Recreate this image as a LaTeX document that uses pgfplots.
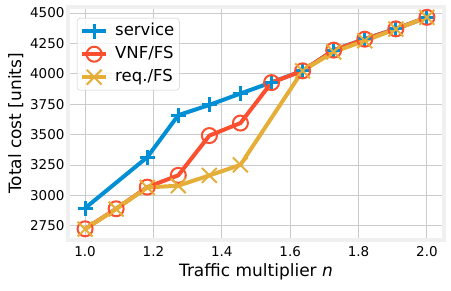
\documentclass[border=0pt]{standalone}
\usepackage{fontspec}
\setmainfont{DejaVu Sans}
\usepackage{pgfplots}
\pgfplotsset{compat=1.18}
\definecolor{cblue}{HTML}{008FD5}
\definecolor{cred}{HTML}{FC4F30}
\definecolor{cyellow}{HTML}{E5AE38}
\definecolor{framegray}{HTML}{F0F0F0}
\definecolor{gridgray}{HTML}{CBCBCB}
\begin{document}
\begin{tikzpicture}
\begin{axis}[
  at={(68pt,51pt)}, anchor=south west,
  scale only axis, width=376pt, height=233pt,
  xmin=0.95, xmax=2.05, ymin=2633, ymax=4550,
  xtick={1,1.2,1.4,1.6,1.8,2}, ytick={2750,3000,3250,3500,3750,4000,4250,4500},
  scaled x ticks=false, scaled y ticks=false,
  grid=major, major grid style={gridgray, line width=1pt},
  major tick length=0pt,
  axis line style={framegray, line width=4pt},
  tick label style={font=\fontsize{13.5}{16}\selectfont},
  /pgf/number format/assume math mode=true,
  x tick label style={yshift=-3pt, /pgf/number format/.cd, fixed, fixed zerofill, precision=1, /tikz/.cd},
  y tick label style={/pgf/number format/.cd, fixed, set thousands separator={}, /tikz/.cd},
  xlabel={Traffic multiplier \textit{n}}, ylabel={Total cost [units]},
  label style={font=\fontsize{17}{20}\selectfont},
  legend cell align=left,
  legend style={at={(0,1)}, anchor=north west, xshift=9pt, yshift=-11pt,
    draw=gridgray, fill=white, fill opacity=0.8, text opacity=1, draw opacity=1,
    rounded corners=3pt, font=\fontsize{16.5}{19}\selectfont, row sep=3pt, column sep=5pt,
    inner xsep=3pt, inner ysep=3pt,
    nodes={text height=12pt, text depth=4pt, inner sep=2pt}},
  legend image code/.code={\draw[mark repeat=2,mark phase=2,#1] plot coordinates {(0pt,0pt) (12pt,0pt) (24pt,0pt)};},
]
\addplot[cblue, line width=4pt, line join=round, mark=+, mark size=7.5pt, mark options={line width=3pt}] coordinates {
(1.0,2895) (1.1818,3314) (1.2727,3660) (1.3636,3744) (1.4545,3838) (1.5455,3930) (1.6364,4025) (1.7273,4195) (1.8182,4287) (1.9091,4370) (2.0,4465)};
\addlegendentry{service}
\addplot[cred, line width=4pt, line join=round, mark=o, mark size=7.5pt, mark options={line width=2pt}] coordinates {
(1.0,2725) (1.0909,2890) (1.1818,3068) (1.2727,3165) (1.3636,3492) (1.4545,3595) (1.5455,3928) (1.6364,4025) (1.7273,4195) (1.8182,4285) (1.9091,4370) (2.0,4465)};
\addlegendentry{VNF/FS}
\addplot[cyellow, line width=4pt, line join=round, mark=x, mark size=10.5pt, mark options={line width=2pt}] coordinates {
(1.0,2722) (1.0909,2888) (1.1818,3065) (1.2727,3080) (1.3636,3164) (1.4545,3251) (1.6364,4025) (1.7273,4180) (1.8182,4272) (1.9091,4368) (2.0,4465)};
\addlegendentry{req./FS}
\end{axis}
\pgfresetboundingbox
\path[use as bounding box] (0pt,0pt) rectangle (451pt,291pt);
\end{tikzpicture}
\end{document}
